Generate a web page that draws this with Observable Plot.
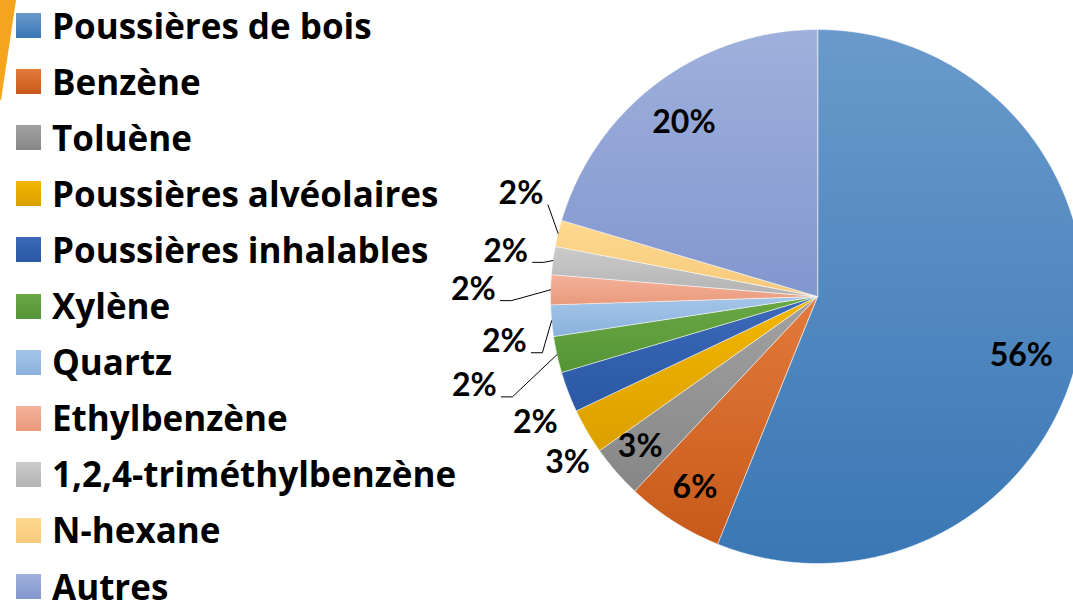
<!DOCTYPE html>
<html><head><meta charset="utf-8">
<script src="https://cdn.jsdelivr.net/npm/d3@7"></script>
<script src="https://cdn.jsdelivr.net/npm/@observablehq/plot@0.6"></script>
<style>
html,body{margin:0;padding:0;background:#fff;width:1073px;height:603px;overflow:hidden;font-family:Lato,"Open Sans",sans-serif;}
#wrap{position:relative;width:1073px;height:603px;}
#chart{position:absolute;left:0;top:0;width:1073px;height:603px;}
#legend{position:absolute;left:0;top:0;}
.row{position:absolute;left:16px;height:30px;display:flex;align-items:center;white-space:nowrap;}
.sw{width:25px;height:25px;margin-right:11px;flex:none;}
.lab{font-family:"Open Sans",Lato,sans-serif;font-weight:700;font-size:35px;color:#000;line-height:30px;}
#deco{position:absolute;left:0;top:0;width:18px;height:100px;background:#f5a41d;clip-path:polygon(0 0,16px 0,1px 100px,0 100px);}
</style></head><body>
<svg width="0" height="0" style="position:absolute"><defs id="defs"></defs></svg>
<div id="wrap"><div id="chart"></div><div id="deco"></div><div id="legend"></div></div>
<script>
// ---- data ----
const categories = ["Poussières de bois","Benzène","Toluène","Poussières alvéolaires","Poussières inhalables","Xylène","Quartz","Ethylbenzène","1,2,4-triméthylbenzène","N-hexane","Autres"];
const shares = [56.1, 5.9, 3.2, 2.75, 2.45, 2.2, 1.9, 1.8, 1.7, 1.6, 20.4];

// ---- styles ----
const colorTop    = ["#6a9acb","#e27a3c","#a2a2a2","#f3b600","#3c69b9","#6aa845","#a4c5e8","#f4b19a","#cbcbcb","#ffd98f","#9fb0dc"];
const colorBottom = ["#3a77b5","#c75a1a","#868686","#dba000","#2b58a3","#559436","#8bb2dc","#e99a7c","#b3b3b3","#f6c97b","#8397cf"];
// label placement (radius as fraction of pie radius, angular nudge in degrees, leader line flag)
const labelRadius = [0.795, 0.852, 0.871, 1.124, 1.157, 1.328, 1.185, 1.289, 1.18, 1.175, 0.822];
const labelTurn   = [5.2, 0, 0.7, -3.3, -3.1, -2, -3, -0.3, 0.5, 5.4, -0.75];
const labelLeader = [false,false,false,false,false,true,true,true,true,true,false];

// layout constants (pixels)
const W = 1073, H = 603, CX = 817, CY = 296, R = 267;

// gradients
const defs = document.getElementById("defs");
const gradUrls = categories.map((c, i) => {
  const id = "g" + i;
  const g = document.createElementNS("http://www.w3.org/2000/svg", "linearGradient");
  g.setAttribute("id", id); g.setAttribute("x1", "0"); g.setAttribute("y1", "0"); g.setAttribute("x2", "0"); g.setAttribute("y2", "1");
  [[0, colorTop[i]], [1, colorBottom[i]]].forEach(([o, col]) => {
    const s = document.createElementNS("http://www.w3.org/2000/svg", "stop");
    s.setAttribute("offset", o); s.setAttribute("stop-color", col); g.appendChild(s);
  });
  defs.appendChild(g);
  return `url(#${id})`;
});

// pie geometry (unit circle; y up)
const rows = categories.map((name, i) => ({name, value: shares[i], i}));
const arcs = d3.pie().sort(null).value(d => d.value)(rows);
const slicePts = [];
arcs.forEach(a => {
  const name = a.data.name;
  slicePts.push({name, x: 0, y: 0});
  const n = Math.max(2, Math.ceil((a.endAngle - a.startAngle) / (Math.PI / 720)));
  for (let k = 0; k <= n; k++) {
    const t = a.startAngle + (a.endAngle - a.startAngle) * k / n;
    slicePts.push({name, x: Math.sin(t), y: Math.cos(t)});
  }
});
const u = 1 / R;
const labels = arcs.map(a => {
  const i = a.data.i;
  const mid = (a.startAngle + a.endAngle) / 2;
  const t = mid + labelTurn[i] * Math.PI / 180;
  const r = labelRadius[i];
  return {name: a.data.name, i, mid, x: r * Math.sin(t), y: r * Math.cos(t), text: Math.round(a.data.value) + "%"};
});
const leaderPts = [];
labels.filter(l => labelLeader[l.i]).forEach(l => {
  const ex = Math.sin(l.mid), ey = Math.cos(l.mid);
  leaderPts.push({name: l.name, x: ex, y: ey});
  if (Math.abs(ey - (l.y - 11 * u)) < 0.09 || ex - (l.x + 27 * u) > 15 * u)
    leaderPts.push({name: l.name, x: l.x + 38 * u, y: l.y - 11 * u});
  leaderPts.push({name: l.name, x: l.x + 27 * u, y: l.y - 11 * u});
});

const chart = Plot.plot({
  width: W, height: H, margin: 0,
  x: {domain: [-CX / R, (W - CX) / R], axis: null},
  y: {domain: [-(H - CY) / R, CY / R], axis: null},
  color: {domain: categories, range: gradUrls},
  style: {fontFamily: "Lato, 'Open Sans', sans-serif", background: "transparent", overflow: "visible"},
  marks: [
    Plot.line(slicePts, {x: "x", y: "y", z: "name", fill: "name", stroke: "#ffffff", strokeWidth: 0.8, strokeOpacity: 0.7, curve: "linear-closed"}),
    Plot.line(leaderPts, {x: "x", y: "y", z: "name", stroke: "#000", strokeWidth: 1}),
    Plot.text(labels, {x: "x", y: "y", text: "text", fontSize: 32, fontWeight: "bold", fill: "#000", textAnchor: "middle", lineAnchor: "middle"})
  ]
});
document.getElementById("chart").appendChild(chart);

// legend
const legend = document.getElementById("legend");
categories.forEach((c, i) => {
  const row = document.createElement("div");
  row.className = "row";
  row.style.top = (25.5 + 56.1 * i - 15) + "px";
  const sw = document.createElement("div");
  sw.className = "sw";
  sw.style.background = `linear-gradient(${colorTop[i]}, ${colorBottom[i]})`;
  const lab = document.createElement("span");
  lab.className = "lab";
  lab.textContent = c;
  row.appendChild(sw); row.appendChild(lab);
  legend.appendChild(row);
});
</script>
</body></html>
